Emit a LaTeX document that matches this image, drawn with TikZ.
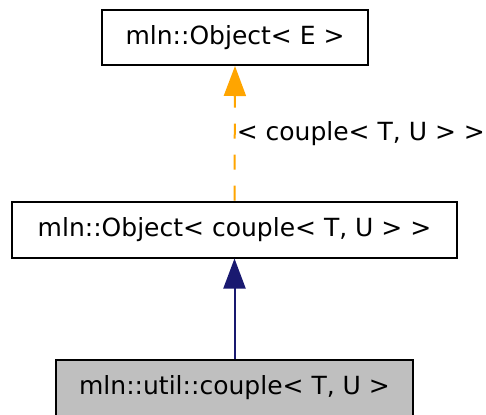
\documentclass[tikz,border=0pt]{standalone}
\usepackage{fontspec}
\setmainfont{DejaVu Sans}
\usetikzlibrary{arrows.meta}
\definecolor{edgeorange}{HTML}{FFA500}
\definecolor{edgenavy}{HTML}{191970}
\definecolor{nodegray}{HTML}{BFBFBF}
\tikzset{
  classbox/.style={draw, line width=1pt, inner sep=0pt, minimum height=28pt,
    font=\fontsize{12.5}{15}\selectfont},
  usedge/.style={line width=1pt, edgenavy,
    -{Triangle[length=15pt, width=11pt]}},
  tmpledge/.style={line width=1pt, edgeorange, dash pattern=on 7.5pt off 8pt,
    -{Triangle[length=15pt, width=11pt]}},
  elabel/.style={font=\fontsize{12.5}{15}\selectfont, text=black, inner sep=0.5pt},
}

\begin{document}
\begin{tikzpicture}[x=0.5pt, y=-0.5pt]
  \useasboundingbox (0,0) rectangle (486,414);
  % template class, its instance, and the derived class
  \node[classbox, minimum width=133pt, minimum height=27.5pt] (objE) at (235,37.5)
    {mln::Object< E >};
  \node[classbox, minimum width=222.5pt] (objcouple) at (234.5,229.5)
    {mln::Object< couple< T, U > >};
  \node[classbox, fill=nodegray, minimum width=178.5pt] (couple) at (234.5,388)
    {mln::util::couple< T, U >};
  % edges
  \draw[tmpledge] (objcouple.north) -- (objE.south)
    node[elabel, midway, anchor=west] {< couple< T, U > >};
  \draw[usedge] (couple.north) -- (objcouple.south);
\end{tikzpicture}
\end{document}
